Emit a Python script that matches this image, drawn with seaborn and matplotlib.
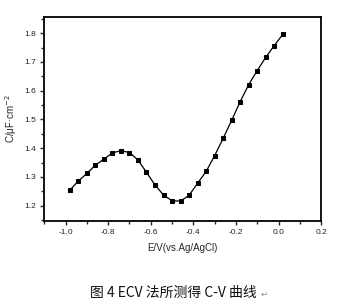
import matplotlib
matplotlib.use("Agg")
import matplotlib.pyplot as plt
import seaborn as sns
import pandas as pd
from matplotlib.ticker import MultipleLocator

E = [-0.98, -0.94, -0.90, -0.86, -0.82, -0.78, -0.74, -0.70, -0.66, -0.62,
     -0.58, -0.54, -0.50, -0.46, -0.42, -0.38, -0.34, -0.30, -0.26, -0.22,
     -0.18, -0.14, -0.10, -0.06, -0.02, 0.02]
C = [1.254, 1.286, 1.312, 1.341, 1.362, 1.384, 1.391, 1.385, 1.359, 1.316,
     1.272, 1.237, 1.217, 1.216, 1.236, 1.278, 1.319, 1.374, 1.434, 1.497,
     1.562, 1.621, 1.670, 1.716, 1.757, 1.796]
xticks = [-1.0, -0.8, -0.6, -0.4, -0.2, 0.0, 0.2]
yticks = [1.2, 1.3, 1.4, 1.5, 1.6, 1.7, 1.8]

sns.set_style("ticks")
plt.rcParams['font.family'] = ['Noto Sans CJK SC', 'DejaVu Sans']

df = pd.DataFrame({"E": E, "C": C})
fig = plt.figure(figsize=(3.46, 3.06), dpi=100)
ax = fig.add_axes([0.128, 0.279, 0.800, 0.666])
sns.lineplot(data=df, x="E", y="C", ax=ax, color="black", linewidth=0.9,
             marker="s", markersize=3.3, markeredgecolor="black", markerfacecolor="black")

ax.set_xlim(-1.1, 0.2)
ax.set_ylim(1.148, 1.857)
ax.set_xticks(xticks)
ax.set_xticklabels([f"{t:.1f}" for t in xticks])
ax.set_yticks(yticks)
ax.set_yticklabels([f"{t:.1f}" for t in yticks])
ax.xaxis.set_minor_locator(MultipleLocator(0.1))
ax.yaxis.set_minor_locator(MultipleLocator(0.05))
ax.tick_params(which="major", direction="out", length=3, width=1, labelsize=6,
               labelcolor="#222222", pad=3, top=False, right=False)
ax.tick_params(which="minor", direction="out", length=2, width=1, top=False, right=False)
for lab in ax.get_xticklabels() + ax.get_yticklabels():
    lab.set_family(['Liberation Sans', 'DejaVu Sans'])
for s in ax.spines.values():
    s.set_visible(True)
    s.set_linewidth(1.3)
    s.set_color("black")

ax.set_xlabel("E/V(vs.Ag/AgCl)", fontsize=7, family=['Liberation Sans', 'DejaVu Sans'], labelpad=5)
ax.set_ylabel("C/μF·cm$^{-2}$", fontsize=7, family=['Liberation Sans', 'DejaVu Sans'], labelpad=4)

fig.text(0.26, 1 - 293 / 306, "图 4 ECV 法所测得 C-V 曲线", fontsize=10,
         ha="left", va="center", color="#111111")
fig.text(0.752, 1 - 294 / 306, "↵", fontsize=6, ha="left", va="center",
         color="#888888", family=['DejaVu Sans'])

fig.savefig("out.png", dpi=100)
